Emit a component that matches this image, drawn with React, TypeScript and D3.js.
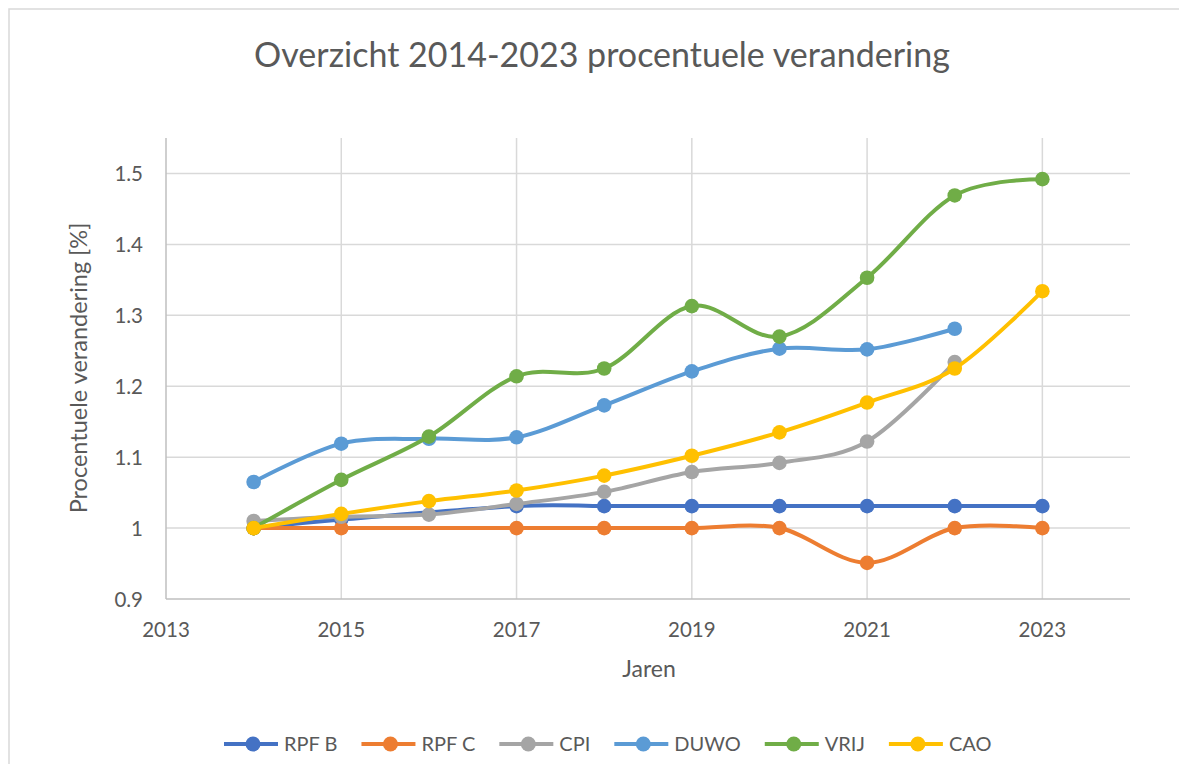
import { useEffect, useRef } from 'react'
import * as d3 from 'd3'

const years = [2014, 2015, 2016, 2017, 2018, 2019, 2020, 2021, 2022, 2023]

// null = no value for that year
const rpfB = [1.0, 1.012, null, 1.031, 1.031, 1.031, 1.031, 1.031, 1.031, 1.031]
const rpfC = [1.0, 1.0, null, 1.0, 1.0, 1.0, 1.0, 0.951, 1.0, 1.0]
const cpi = [1.01, 1.016, 1.019, 1.034, 1.051, 1.079, 1.092, 1.122, 1.234, null]
const duwo = [1.065, 1.119, 1.126, 1.128, 1.173, 1.221, 1.253, 1.252, 1.281, null]
const vrij = [1.0, 1.068, 1.129, 1.214, 1.225, 1.313, 1.27, 1.353, 1.469, 1.492]
const cao = [1.0, 1.02, 1.038, 1.053, 1.074, 1.102, 1.135, 1.177, 1.225, 1.334]

const seriesNames = ['RPF B', 'RPF C', 'CPI', 'DUWO', 'VRIJ', 'CAO']
const seriesValues = [rpfB, rpfC, cpi, duwo, vrij, cao]
const seriesColors = ['#4472C4', '#ED7D31', '#A5A5A5', '#5B9BD5', '#70AD47', '#FFC000']

const xTicks = [2013, 2015, 2017, 2019, 2021, 2023]
const yTicks = [0.9, 1.0, 1.1, 1.2, 1.3, 1.4, 1.5]

const FONT = 'Lato, "Noto Sans", sans-serif'
const TEXT = '#595959'

export default function App() {
  const svgRef = useRef<SVGSVGElement>(null)

  useEffect(() => {
    const svg = d3.select(svgRef.current)
    svg.selectAll('*').remove()

    // work in page coordinates (body margin is 8px)
    const g = svg.append('g').attr('transform', 'translate(-8,-8)')

    g.append('rect')
      .attr('x', 9).attr('y', 9)
      .attr('width', 1300).attr('height', 900)
      .attr('fill', '#fff')
      .attr('stroke', '#D9D9D9')
      .attr('stroke-width', 1.5)

    const left = 166, right = 1130, top = 138, bottom = 599

    const x = d3.scaleLinear().domain([2013, 2024]).range([left, right])
    const y = d3.scaleLinear().domain([0.9, 1.55]).range([bottom, top])

    // gridlines
    g.append('g')
      .selectAll('line')
      .data(yTicks.slice(1))
      .join('line')
      .attr('x1', left).attr('x2', right)
      .attr('y1', d => y(d)).attr('y2', d => y(d))
      .attr('stroke', '#D9D9D9').attr('stroke-width', 1.5)

    g.append('g')
      .selectAll('line')
      .data(xTicks.slice(1))
      .join('line')
      .attr('x1', d => x(d)).attr('x2', d => x(d))
      .attr('y1', top).attr('y2', bottom)
      .attr('stroke', '#D9D9D9').attr('stroke-width', 1.5)

    // axis lines
    g.append('line')
      .attr('x1', left).attr('x2', left).attr('y1', top).attr('y2', bottom)
      .attr('stroke', '#BFBFBF').attr('stroke-width', 1.5)
    g.append('line')
      .attr('x1', left).attr('x2', right).attr('y1', bottom).attr('y2', bottom)
      .attr('stroke', '#BFBFBF').attr('stroke-width', 1.5)

    // tick labels
    g.append('g')
      .selectAll('text')
      .data(yTicks)
      .join('text')
      .attr('x', 143)
      .attr('y', d => y(d) + 7.5)
      .attr('text-anchor', 'end')
      .attr('font-family', FONT).attr('font-size', 20.5).attr('fill', TEXT)
      .text(d => String(+d.toFixed(1)))

    g.append('g')
      .selectAll('text')
      .data(xTicks)
      .join('text')
      .attr('x', d => x(d))
      .attr('y', 637)
      .attr('text-anchor', 'middle')
      .attr('font-family', FONT).attr('font-size', 20.5).attr('fill', TEXT)
      .text(d => d)

    // titles
    g.append('text')
      .attr('x', 602).attr('y', 67)
      .attr('text-anchor', 'middle')
      .attr('font-family', FONT).attr('font-size', 34).attr('fill', TEXT)
      .text('Overzicht 2014-2023 procentuele verandering')

    g.append('text')
      .attr('x', 649).attr('y', 677)
      .attr('text-anchor', 'middle')
      .attr('font-family', FONT).attr('font-size', 23).attr('fill', TEXT)
      .text('Jaren')

    g.append('text')
      .attr('transform', `translate(87,368) rotate(-90)`)
      .attr('text-anchor', 'middle')
      .attr('font-family', FONT).attr('font-size', 23.5).attr('fill', TEXT)
      .text('Procentuele verandering [%]')

    // series
    const line = d3.line<[number, number]>()
      .x(d => x(d[0]))
      .y(d => y(d[1]))
      .curve(d3.curveCardinal.tension(0))

    seriesValues.forEach((vals, i) => {
      const pts = years
        .map((yr, j) => [yr, vals[j]] as [number, number | null])
        .filter(p => p[1] != null) as [number, number][]
      const sg = g.append('g')
      sg.append('path')
        .attr('d', line(pts))
        .attr('fill', 'none')
        .attr('stroke', seriesColors[i])
        .attr('stroke-width', 4)
        .attr('stroke-linecap', 'round')
      sg.selectAll('circle')
        .data(pts)
        .join('circle')
        .attr('cx', d => x(d[0]))
        .attr('cy', d => y(d[1]))
        .attr('r', 7.3)
        .attr('fill', seriesColors[i])
    })

    // legend: swatch 54px, gap 6, text, gap 24
    const lg = g.append('g')
    let lx = 224
    seriesNames.forEach((name, i) => {
      lg.append('line')
        .attr('x1', lx).attr('x2', lx + 54)
        .attr('y1', 744).attr('y2', 744)
        .attr('stroke', seriesColors[i]).attr('stroke-width', 4)
      lg.append('circle')
        .attr('cx', lx + 29).attr('cy', 744).attr('r', 7.5)
        .attr('fill', seriesColors[i])
      const t = lg.append('text')
        .attr('x', lx + 60).attr('y', 751)
        .attr('font-family', FONT).attr('font-size', 20).attr('fill', TEXT)
        .text(name)
      const w = (t.node() as SVGTextElement).getComputedTextLength()
      lx += 60 + w + 24
    })
  }, [])

  return (
    <svg ref={svgRef} width={1171} height={756} style={{ display: 'block', overflow: 'hidden' }} />
  )
}
